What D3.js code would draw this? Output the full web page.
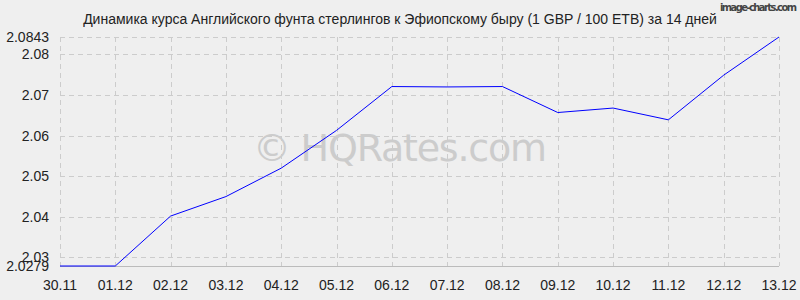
<!DOCTYPE html>
<html>
<head>
<meta charset="utf-8">
<script src="https://cdn.jsdelivr.net/npm/d3@7"></script>
<style>
  body { margin: 0; background: #efefef; }
  svg { display: block; }
</style>
</head>
<body>
<div id="chart"></div>
<script>
var dates = ["30.11","01.12","02.12","03.12","04.12","05.12","06.12","07.12","08.12","09.12","10.12","11.12","12.12","13.12"];
var rates = [2.0279,2.0279,2.0402,2.0450,2.0520,2.0613,2.0721,2.0720,2.0721,2.0657,2.0668,2.0639,2.0749,2.0843];
var yTicks = [2.0279,2.03,2.04,2.05,2.06,2.07,2.08,2.0843];
var title = "Динамика курса Английского фунта стерлингов к Эфиопскому быру (1 GBP / 100 ETB) за 14 дней";

var w = 800, h = 300;
// plot edges (note: "top" is reserved on window)
var pLeft = 60, pRight = 779, pTop = 37, pBottom = 266;

var svg = d3.select("#chart").append("svg")
	.attr("width", w)
	.attr("height", h)
	.style("background", "#efefef");

var x = d3.scalePoint()
	.domain(dates)
	.range([pLeft, pRight]);

var y = d3.scaleLinear()
	.domain([d3.min(yTicks), d3.max(yTicks)])
	.range([pBottom, pTop]);

// grid
svg.append("g").selectAll("line")
	.data(dates)
	.enter().append("line")
	.attr("x1", function(d){ return Math.round(x(d)) + 0.5; })
	.attr("x2", function(d){ return Math.round(x(d)) + 0.5; })
	.attr("y1", pTop)
	.attr("y2", pBottom)
	.attr("stroke", "#cccccc")
	.attr("stroke-dasharray", "5,4");

svg.append("g").selectAll("line")
	.data(yTicks.filter(function(d){ return d != d3.min(yTicks); }))
	.enter().append("line")
	.attr("x1", pLeft)
	.attr("x2", pRight)
	.attr("y1", function(d){ return Math.round(y(d)) + 0.5; })
	.attr("y2", function(d){ return Math.round(y(d)) + 0.5; })
	.attr("stroke", "#cccccc")
	.attr("stroke-dasharray", "5,4");

// bottom axis line
svg.append("line")
	.attr("x1", pLeft).attr("x2", pRight)
	.attr("y1", Math.round(y(d3.min(yTicks))) + 0.5)
	.attr("y2", Math.round(y(d3.min(yTicks))) + 0.5)
	.attr("stroke", "#bbbbbb");

// watermark
svg.append("text")
	.text("© HQRates.com")
	.attr("x", 400)
	.attr("y", 161)
	.attr("text-anchor", "middle")
	.attr("font-family", "DejaVu Sans, Verdana, sans-serif")
	.attr("font-size", "38px")
	.attr("textLength", 294)
	.attr("fill", "#cccccc");

// y labels
svg.append("g").selectAll("text")
	.data(yTicks)
	.enter().append("text")
	.text(function(d){ return d; })
	.attr("x", 49)
	.attr("y", function(d){ return y(d) + 5; })
	.attr("text-anchor", "end")
	.attr("font-family", "Liberation Sans, Arial, sans-serif")
	.attr("font-size", "14px")
	.attr("fill", "#222");

// x labels
svg.append("g").selectAll("text")
	.data(dates)
	.enter().append("text")
	.text(function(d){ return d; })
	.attr("x", function(d){ return x(d); })
	.attr("y", 290)
	.attr("text-anchor", "middle")
	.attr("font-family", "Liberation Sans, Arial, sans-serif")
	.attr("font-size", "14px")
	.attr("fill", "#222");

// line
var line = d3.line()
	.x(function(d,i){ return x(dates[i]); })
	.y(function(d){ return y(d); });

svg.append("path")
	.datum(rates)
	.attr("d", line)
	.attr("fill", "none")
	.attr("stroke", "#0000ff")
	.attr("stroke-width", 1);

// title
svg.append("text")
	.text(title)
	.attr("x", 400)
	.attr("y", 24)
	.attr("text-anchor", "middle")
	.attr("font-family", "Liberation Sans, Arial, sans-serif")
	.attr("font-size", "14px")
	.attr("fill", "#222");

svg.append("text")
	.text("image-charts.com")
	.attr("x", 797)
	.attr("y", 11)
	.attr("text-anchor", "end")
	.attr("font-family", "DejaVu Sans Condensed, DejaVu Sans, sans-serif")
	.attr("font-size", "11px")
	.attr("font-weight", "bold")
	.attr("textLength", 77)
	.attr("fill", "#444");
</script>
</body>
</html>
